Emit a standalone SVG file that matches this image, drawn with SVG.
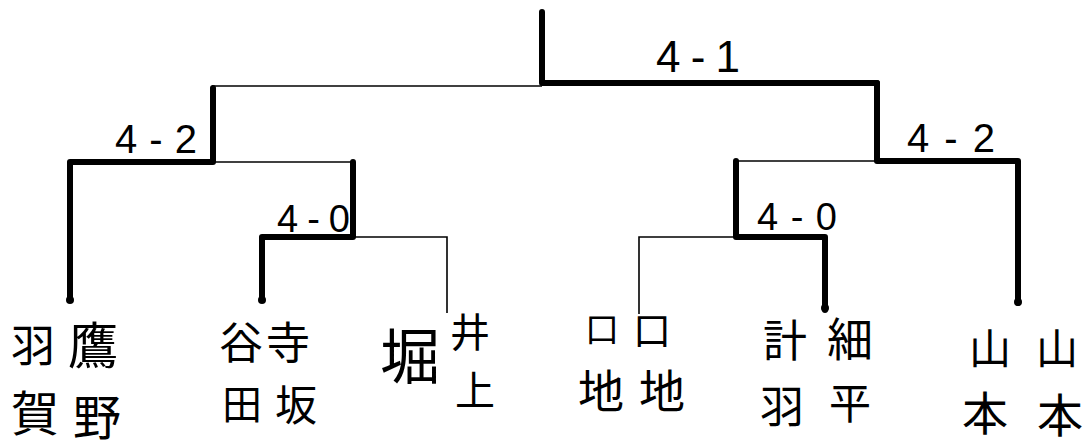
<svg xmlns="http://www.w3.org/2000/svg" width="1091" height="448" viewBox="0 0 1091 448">
<style>
.thick{fill:none;stroke:#000;stroke-width:6;stroke-linecap:round;stroke-linejoin:round}
.thin{fill:none;stroke:#000;stroke-width:1.6;stroke-linecap:butt}
.score{font-family:"Liberation Sans",Arial,sans-serif;fill:#000}
.nm{font-family:"Noto Sans CJK JP","Noto Sans CJK SC",sans-serif;fill:#000;text-anchor:middle;dominant-baseline:central}
</style>
<rect width="1091" height="448" fill="#fff"/>
<g id="connectors">
  <path class="thin" d="M212,86 H542"/>
  <path class="thick" d="M542,12 V83 H877"/>
  <path class="thick" d="M213,88 V162 H70 V300"/>
  <path class="thin" d="M213,162 H353"/>
  <path class="thick" d="M353,162 V237 H262 V300"/>
  <path class="thin" d="M353,237 H447 V313"/>
  <path class="thick" d="M877,83 V161 H1018 V303"/>
  <path class="thin" d="M877,161 H736"/>
  <path class="thick" d="M736,161 V237 H825 V310"/>
  <path class="thin" d="M736,237 H639 V314"/>
  <circle cx="70" cy="300" r="4"/>
  <circle cx="262" cy="300" r="4"/>
  <circle cx="1018" cy="302" r="4"/>
  <circle cx="825" cy="308" r="4"/>
</g>
<g id="scores">
  <text id="s-final" class="score" x="656" y="72" font-size="44" textLength="84" lengthAdjust="spacing">4-1</text>
  <text id="s-left-semi" class="score" x="115" y="153" font-size="40" textLength="82" lengthAdjust="spacing">4-2</text>
  <text id="s-left-q" class="score" x="277" y="232" font-size="38" textLength="73" lengthAdjust="spacing">4-0</text>
  <text id="s-right-semi" class="score" x="907" y="152" font-size="40" textLength="88" lengthAdjust="spacing">4-2</text>
  <text id="s-right-q" class="score" x="757" y="230" font-size="38" textLength="80" lengthAdjust="spacing">4-0</text>
</g>
<g id="team1">
  <text class="nm" x="33" y="343" font-size="44">羽</text>
  <text class="nm" x="35" y="410" font-size="48">賀</text>
  <text class="nm" x="93" y="342" font-size="50">鷹</text>
  <text class="nm" x="97" y="414" font-size="48">野</text>
</g>
<g id="team2">
  <text class="nm" x="241" y="340" font-size="44">谷</text>
  <text class="nm" x="288" y="340" font-size="44">寺</text>
  <text class="nm" x="242" y="402" font-size="40">田</text>
  <text class="nm" x="296" y="402" font-size="42">坂</text>
</g>
<g id="team3">
  <text class="nm" x="410" y="352" font-size="60">堀</text>
  <text class="nm" x="470" y="330" font-size="40">井</text>
  <text class="nm" x="475" y="388" font-size="40">上</text>
</g>
<g id="team4">
  <text class="nm" x="602" y="327" font-size="34">口</text>
  <text class="nm" x="652" y="327" font-size="38">口</text>
  <text class="nm" x="601" y="388" font-size="46">地</text>
  <text class="nm" x="662" y="388" font-size="46">地</text>
</g>
<g id="team5">
  <text class="nm" x="785" y="338" font-size="44">計</text>
  <text class="nm" x="850" y="336" font-size="46">細</text>
  <text class="nm" x="782" y="404" font-size="44">羽</text>
  <text class="nm" x="850" y="400" font-size="42">平</text>
</g>
<g id="team6">
  <text class="nm" x="990" y="345" font-size="42">山</text>
  <text class="nm" x="1057" y="345" font-size="42">山</text>
  <text class="nm" x="985" y="410" font-size="46">本</text>
  <text class="nm" x="1060" y="412" font-size="46">本</text>
</g>
</svg>
